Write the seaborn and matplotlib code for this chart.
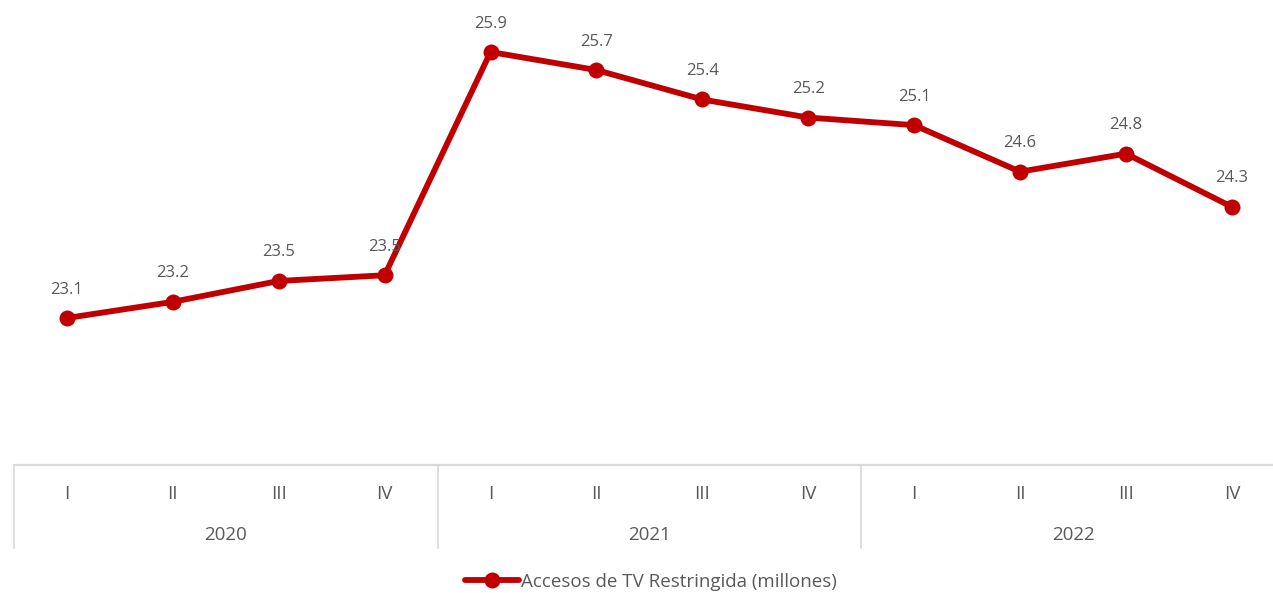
import matplotlib
matplotlib.use("Agg")
import matplotlib.pyplot as plt
import seaborn as sns
import pandas as pd
from matplotlib.lines import Line2D

years = ["2020", "2021", "2022"]
quarters = ["I", "II", "III", "IV"]
values = [23.10, 23.27, 23.49, 23.55, 25.90, 25.71, 25.40, 25.21, 25.13, 24.64, 24.83, 24.27]
labels = ["23.1", "23.2", "23.5", "23.5", "25.9", "25.7", "25.4", "25.2", "25.1", "24.6", "24.8", "24.3"]
series_name = "Accesos de TV Restringida (millones)"

sns.set_theme(style="white")
plt.rcParams["font.family"] = ["Open Sans", "DejaVu Sans"]

RED = "#C00000"
TXT = "#595959"
GRID = "#D9D9D9"

df = pd.DataFrame({
    "idx": list(range(len(values))),
    "year": [y for y in years for _ in quarters],
    "quarter": quarters * len(years),
    "value": values,
})

W, H = 1273, 593
fig = plt.figure(figsize=(W / 100, H / 100), dpi=100)
left_px, right_px, top_px, bot_px = 14, 1273, 0, 465
ax = fig.add_axes([left_px / W, 1 - bot_px / H, (right_px - left_px) / W, (bot_px - top_px) / H])

LW = 4.2
MS = 11.5
sns.lineplot(data=df, x="idx", y="value", ax=ax, color=RED, linewidth=LW,
             marker="o", markersize=MS, markeredgecolor=RED, markeredgewidth=0, legend=False)

cat_w = 105.9
ax.set_xlim(-0.5, -0.5 + (right_px - left_px) / cat_w)
ppu = 95.0
y_ref = 25.9
ax.set_ylim(y_ref - (bot_px - 52) / ppu, y_ref + (52 - top_px) / ppu)

for i, (v, lab) in enumerate(zip(values, labels)):
    ax.annotate(lab, (i, v), xytext=(0, 20.5), textcoords="offset points",
                ha="center", va="center", fontsize=12, color=TXT)

ax.set_xticks([])
ax.set_yticks([])
ax.set_xlabel("")
ax.set_ylabel("")
for s in ax.spines.values():
    s.set_visible(False)

def fx(px):
    return px / W

def fy(py):
    return 1 - py / H

fig.add_artist(Line2D([fx(left_px), 1], [fy(bot_px), fy(bot_px)], color=GRID, lw=1.6))
for yi in range(len(years) + 1):
    xpx = left_px + yi * 4 * cat_w
    if xpx < W:
        fig.add_artist(Line2D([fx(xpx), fx(xpx)], [fy(bot_px), fy(548)], color=GRID, lw=1.2))

for i, q in enumerate(df["quarter"]):
    xpx = left_px + (i + 0.5) * cat_w
    fig.text(fx(xpx), fy(494), q, ha="center", va="center", fontsize=13.5, color=TXT)
for yi, y in enumerate(years):
    xpx = left_px + (yi * 4 + 2) * cat_w
    fig.text(fx(xpx), fy(535), y, ha="center", va="center", fontsize=13.5, color=TXT)

handle = Line2D([], [], color=RED, lw=LW, marker="o", markersize=MS, markeredgewidth=0)
fig.legend([handle], [series_name], loc="center", bbox_to_anchor=(fx(651), fy(582)),
           frameon=False, fontsize=13.5, handlelength=2.9, handletextpad=0.12,
           labelcolor=TXT, borderaxespad=0)

fig.savefig("out.png", dpi=100)
